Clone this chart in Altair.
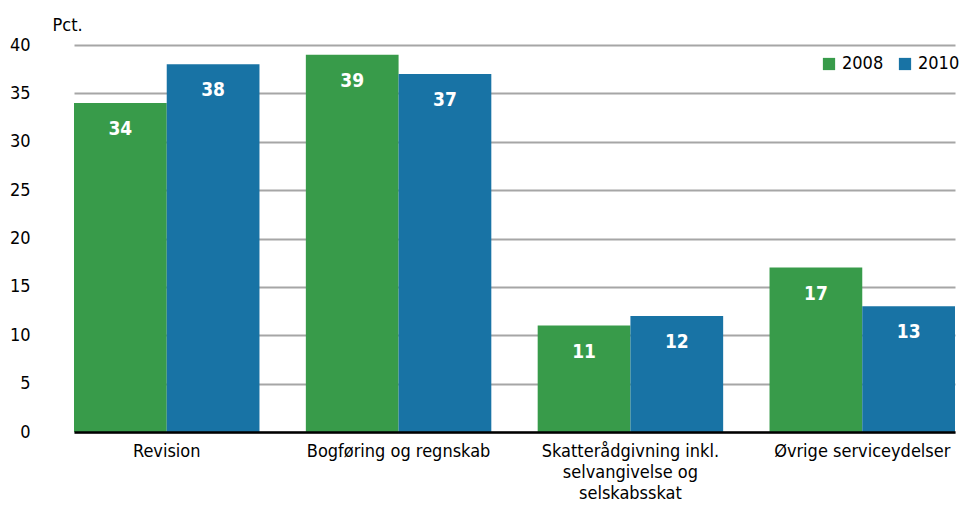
import altair as alt
import pandas as pd

categories = [
    "Revision",
    "Bogføring og regnskab",
    "Skatterådgivning inkl. selvangivelse og selskabsskat",
    "Øvrige serviceydelser",
]
years = ["2008", "2010"]
values_2008 = [34, 39, 11, 17]
values_2010 = [38, 37, 12, 13]
y_ticks = [0, 5, 10, 15, 20, 25, 30, 35, 40]
colors = ["#389b4a", "#1873a5"]

rows = []
for c, a, b in zip(categories, values_2008, values_2010):
    rows.append({"kategori": c, "år": years[0], "pct": a})
    rows.append({"kategori": c, "år": years[1], "pct": b})
df = pd.DataFrame(rows)

FONT = "Liberation Sans Narrow, DejaVu Sans Condensed, sans-serif"

label_expr = (
    "datum.value == 'Skatterådgivning inkl. selvangivelse og selskabsskat' ? "
    "['Skatterådgivning inkl.', 'selvangivelse og', 'selskabsskat'] : datum.label"
)

x_enc = alt.X(
    "kategori:N",
    sort=categories,
    scale=alt.Scale(range=[24, 905], paddingInner=0.2, paddingOuter=0),
    axis=alt.Axis(
        title=None,
        labelAngle=0,
        labelExpr=label_expr,
        domainColor="black",
        domainWidth=2.5,
        ticks=False,
        labelPadding=10,
        labelFontSize=18,
        labelLineHeight=21,
        labelColor="black",
        labelLimit=0,
        labelFont=FONT,
        zindex=1,
    ),
)
xoff_enc = alt.XOffset("år:N", sort=years, scale=alt.Scale(paddingInner=0, paddingOuter=0))
y_enc = alt.Y(
    "pct:Q",
    scale=alt.Scale(domain=[0, 40], nice=False),
    axis=alt.Axis(
        values=y_ticks,
        title="Pct.",
        titleAngle=0,
        titleX=2,
        titleY=-20,
        titleAlign="left",
        titleBaseline="middle",
        titleFontSize=18,
        titleFontWeight="normal",
        titleFont=FONT,
        titleColor="black",
        domain=False,
        ticks=False,
        tickSize=0,
        labelPadding=20,
        labelFontSize=18,
        labelFont=FONT,
        labelColor="black",
        gridColor="#a6a6a6",
        gridWidth=2,
    ),
)

bars = alt.Chart(df).mark_bar().encode(
    x=x_enc,
    xOffset=xoff_enc,
    y=y_enc,
    color=alt.Color(
        "år:N",
        sort=years,
        scale=alt.Scale(domain=years, range=colors),
        legend=alt.Legend(
            title=None,
            orient="none",
            legendX=770,
            legendY=10,
            direction="horizontal",
            symbolType="square",
            symbolSize=150,
            symbolStrokeWidth=0,
            labelFontSize=18,
            labelFont=FONT,
            labelColor="black",
            columnPadding=12,
            labelOffset=4,
            padding=0,
        ),
    ),
)

labels = alt.Chart(df).mark_text(
    baseline="middle", dy=26, color="white", fontWeight="bold", fontSize=19, font=FONT
).encode(x=x_enc, xOffset=xoff_enc, y=y_enc, text="pct:Q")

chart = (
    alt.layer(bars, labels)
    .properties(
        width=910,
        height=387,
        padding={"left": 42, "top": 37, "right": 0, "bottom": 76},
        autosize=alt.AutoSizeParams(type="none"),
    )
    .configure_view(stroke=None)
)

chart.save("out.html", embed_options={"renderer": "svg", "actions": False})
